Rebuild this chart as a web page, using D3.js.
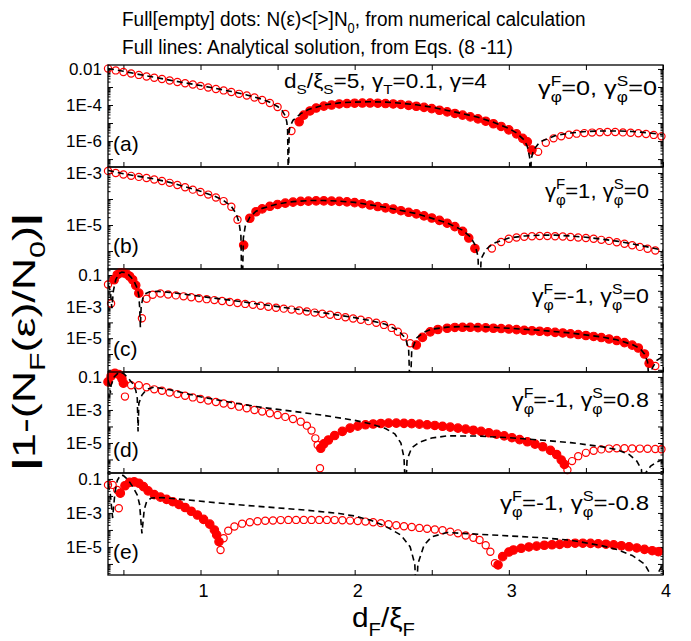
<!DOCTYPE html>
<html>
<head>
<meta charset="utf-8">
<script src="https://cdn.jsdelivr.net/npm/d3@7"></script>
<style>
  body { margin: 0; background: #fff; }
  svg { font-family: "Liberation Sans", Arial, Helvetica, sans-serif; }
</style>
</head>
<body>
<div id="chart"></div>
<script>
// x axis (d_F / xi_F)
const xTicks = [0.5, 1, 1.5, 2, 2.5, 3, 3.5, 4];
const xTickLabels = [1, 2, 3, 4];

// panel names and parameters
const panelNames = ["(a)", "(b)", "(c)", "(d)", "(e)"];
const gammaF = ["0", "1", "-1", "-1", "-1"];
const gammaS = ["0", "0", "0", "0.8", "-0.8"];

// labelled y ticks per panel
const yLabelsA = [1e-2, 1e-4, 1e-6];
const yLabelsB = [1e-3, 1e-5];
const yLabelsC = [1e-1, 1e-3, 1e-5];
const yLabelsD = [1e-1, 1e-3, 1e-5];
const yLabelsE = [1e-1, 1e-3, 1e-5];

// y ranges, as log10 exponents [bottom, top]
const yExpA = [-7.44, -1.78];
const yExpB = [-6.69, -2.77];
const yExpC = [-7.14, -0.62];
const yExpD = [-6.82, -0.70];
const yExpE = [-6.65, -0.65];

// dots: [dF/xiF, log10|1-N/N0|, 1 = full (N<N0), 0 = empty (N>N0)]
const dotsA = [[0.40,-1.98,0],[0.45,-2.08,0],[0.50,-2.17,0],[0.55,-2.25,0],[0.60,-2.33,0],[0.65,-2.42,0],[0.70,-2.49,0],[0.75,-2.56,0],[0.80,-2.64,0],[0.85,-2.72,0],[0.90,-2.79,0],[0.95,-2.86,0],[1.00,-2.94,0],[1.05,-3.03,0],[1.10,-3.11,0],[1.15,-3.19,0],[1.20,-3.28,0],[1.25,-3.38,0],[1.30,-3.47,0],[1.35,-3.58,0],[1.40,-3.72,0],[1.45,-3.89,0],[1.50,-4.11,0],[1.55,-4.5,0],[1.59,-5.44,0],
  [1.64,-4.93,1],[1.67,-4.56,1],[1.71,-4.33,1],[1.75,-4.17,1],[1.80,-4.06,1],[1.85,-4.0,1],[1.90,-3.94,1],[1.95,-3.92,1],[2.00,-3.9,1],[2.05,-3.89,1],[2.10,-3.89,1],[2.15,-3.9,1],[2.20,-3.92,1],[2.25,-3.94,1],[2.30,-3.97,1],[2.35,-4.02,1],[2.40,-4.07,1],[2.45,-4.13,1],[2.50,-4.2,1],[2.55,-4.29,1],[2.60,-4.38,1],[2.65,-4.47,1],[2.70,-4.56,1],[2.75,-4.66,1],[2.80,-4.77,1],[2.85,-4.9,1],[2.90,-5.04,1],[2.95,-5.19,1],[3.00,-5.38,1],[3.05,-5.6,1],[3.09,-5.85,1],[3.12,-6.04,1],[3.15,-6.5,1],
  [3.19,-6.6,0],[3.24,-6.1,0],[3.29,-5.85,0],[3.34,-5.73,0],[3.39,-5.65,0],[3.44,-5.59,0],[3.49,-5.56,0],[3.54,-5.53,0],[3.59,-5.51,0],[3.64,-5.5,0],[3.69,-5.5,0],[3.74,-5.52,0],[3.79,-5.54,0],[3.84,-5.57,0],[3.89,-5.61,0],[3.94,-5.66,0],[3.99,-5.74,0]];

const dotsB = [[0.40,-2.92,0],[0.45,-3.0,0],[0.50,-3.06,0],[0.55,-3.11,0],[0.60,-3.15,0],[0.65,-3.19,0],[0.70,-3.25,0],[0.75,-3.31,0],[0.80,-3.38,0],[0.85,-3.46,0],[0.90,-3.55,0],[0.95,-3.64,0],[1.00,-3.73,0],[1.05,-3.83,0],[1.10,-3.94,0],[1.15,-4.08,0],[1.20,-4.3,0],[1.24,-4.8,0],
  [1.28,-5.77,1],[1.32,-4.74,1],[1.36,-4.49,1],[1.40,-4.38,1],[1.45,-4.28,1],[1.50,-4.21,1],[1.55,-4.16,1],[1.60,-4.12,1],[1.65,-4.09,1],[1.70,-4.08,1],[1.75,-4.07,1],[1.80,-4.07,1],[1.85,-4.08,1],[1.90,-4.09,1],[1.95,-4.11,1],[2.00,-4.14,1],[2.05,-4.18,1],[2.10,-4.23,1],[2.15,-4.29,1],[2.20,-4.34,1],[2.25,-4.39,1],[2.30,-4.45,1],[2.35,-4.51,1],[2.40,-4.57,1],[2.45,-4.65,1],[2.50,-4.73,1],[2.55,-4.82,1],[2.60,-4.93,1],[2.65,-5.06,1],[2.70,-5.24,1],[2.74,-5.5,1],[2.78,-5.9,1],
  [2.89,-5.9,0],[2.95,-5.65,0],[3.00,-5.53,0],[3.05,-5.48,0],[3.10,-5.45,0],[3.15,-5.43,0],[3.20,-5.42,0],[3.25,-5.42,0],[3.30,-5.43,0],[3.35,-5.44,0],[3.40,-5.46,0],[3.45,-5.48,0],[3.50,-5.5,0],[3.55,-5.53,0],[3.60,-5.57,0],[3.65,-5.61,0],[3.70,-5.66,0],[3.75,-5.72,0],[3.80,-5.78,0],[3.85,-5.84,0],[3.90,-5.91,0],[3.95,-5.98,0]];

const dotsC = [[0.40,-1.6,0],[0.42,-2.8,0],[0.44,-1.3,1],[0.46,-0.98,1],[0.48,-0.86,1],[0.50,-0.86,1],[0.52,-0.93,1],[0.54,-1.08,1],[0.56,-1.3,1],[0.58,-1.65,1],[0.60,-2.15,1],[0.62,-3.74,0],[0.65,-2.5,0],[0.69,-2.25,0],[0.74,-2.17,0],[0.79,-2.23,0],[0.84,-2.29,0],[0.89,-2.35,0],[0.94,-2.41,0],[0.99,-2.47,0],[1.04,-2.53,0],[1.09,-2.59,0],[1.14,-2.65,0],[1.19,-2.71,0],[1.24,-2.77,0],[1.29,-2.83,0],[1.34,-2.89,0],[1.39,-2.95,0],[1.44,-3.01,0],[1.49,-3.07,0],[1.54,-3.13,0],[1.59,-3.19,0],[1.64,-3.25,0],[1.69,-3.31,0],[1.74,-3.38,0],[1.79,-3.45,0],[1.84,-3.52,0],[1.89,-3.59,0],[1.94,-3.67,0],[1.99,-3.75,0],[2.04,-3.83,0],[2.09,-3.92,0],[2.14,-4.02,0],[2.19,-4.16,0],[2.24,-4.35,0],[2.28,-4.59,0],[2.32,-4.9,0],[2.36,-5.32,0],
  [2.40,-5.43,1],[2.44,-4.95,1],[2.49,-4.6,1],[2.54,-4.45,1],[2.60,-4.37,1],[2.65,-4.32,1],[2.70,-4.31,1],[2.75,-4.31,1],[2.80,-4.33,1],[2.85,-4.35,1],[2.90,-4.37,1],[2.95,-4.39,1],[3.00,-4.42,1],[3.05,-4.46,1],[3.10,-4.5,1],[3.15,-4.53,1],[3.20,-4.56,1],[3.25,-4.59,1],[3.30,-4.63,1],[3.35,-4.67,1],[3.40,-4.72,1],[3.45,-4.77,1],[3.50,-4.83,1],[3.55,-4.89,1],[3.60,-4.96,1],[3.65,-5.05,1],[3.70,-5.15,1],[3.75,-5.28,1],[3.80,-5.44,1],[3.84,-5.62,1],[3.88,-6.0,1],[3.91,-6.59,1],
  [3.95,-6.76,0]];

const dotsD = [[0.40,-1.3,1],[0.42,-0.95,1],[0.445,-0.78,1],[0.47,-0.85,1],[0.49,-1.1,1],[0.50,-1.38,1],[0.51,-2.19,0],[0.55,-1.5,0],[0.60,-1.5,0],[0.65,-1.62,0],[0.70,-1.75,0],[0.75,-1.84,0],[0.80,-1.94,0],[0.85,-2.04,0],[0.90,-2.14,0],[0.95,-2.24,0],[1.00,-2.34,0],[1.05,-2.43,0],[1.10,-2.52,0],[1.15,-2.61,0],[1.20,-2.7,0],[1.25,-2.8,0],[1.30,-2.9,0],[1.35,-3.0,0],[1.40,-3.1,0],[1.45,-3.2,0],[1.50,-3.31,0],[1.55,-3.42,0],[1.60,-3.55,0],[1.65,-3.71,0],[1.69,-3.95,0],[1.72,-4.25,0],[1.745,-4.72,0],[1.76,-5.12,0],[1.775,-6.53,0],
  [1.78,-5.32,1],[1.80,-5.05,1],[1.83,-4.82,1],[1.87,-4.55,1],[1.92,-4.3,1],[1.97,-4.1,1],[2.02,-3.98,1],[2.07,-3.9,1],[2.12,-3.85,1],[2.17,-3.82,1],[2.22,-3.8,1],[2.27,-3.8,1],[2.32,-3.81,1],[2.37,-3.83,1],[2.42,-3.86,1],[2.47,-3.9,1],[2.52,-3.94,1],[2.57,-3.99,1],[2.62,-4.04,1],[2.67,-4.1,1],[2.72,-4.16,1],[2.77,-4.23,1],[2.82,-4.3,1],[2.87,-4.38,1],[2.92,-4.47,1],[2.97,-4.57,1],[3.02,-4.68,1],[3.07,-4.8,1],[3.12,-4.93,1],[3.17,-5.07,1],[3.22,-5.23,1],[3.27,-5.45,1],[3.31,-5.7,1],[3.34,-6.03,1],[3.36,-6.3,1],
  [3.38,-6.64,0],[3.41,-6.1,0],[3.45,-5.8,0],[3.50,-5.6,0],[3.55,-5.47,0],[3.60,-5.39,0],[3.65,-5.34,0],[3.70,-5.32,0],[3.75,-5.32,0],[3.80,-5.33,0],[3.85,-5.34,0],[3.90,-5.35,0],[3.95,-5.37,0],[3.99,-5.38,0]];

const dotsE = [[0.40,-1.35,0],[0.43,-1.35,0],[0.46,-1.65,0],[0.47,-2.72,0],[0.48,-1.84,1],[0.51,-1.4,1],[0.54,-1.2,1],[0.57,-1.17,1],[0.60,-1.25,1],[0.63,-1.45,1],[0.66,-1.7,1],[0.70,-1.92,1],[0.74,-2.07,1],[0.78,-2.2,1],[0.82,-2.34,1],[0.86,-2.5,1],[0.90,-2.68,1],[0.94,-2.9,1],[0.98,-3.12,1],[1.02,-3.38,1],[1.06,-3.66,1],[1.09,-4.0,1],[1.105,-4.29,1],[1.12,-4.69,1],
  [1.13,-5.18,0],[1.15,-4.49,0],[1.18,-4.05,0],[1.22,-3.8,0],[1.27,-3.63,0],[1.32,-3.55,0],[1.37,-3.49,0],[1.42,-3.46,0],[1.47,-3.44,0],[1.52,-3.42,0],[1.57,-3.41,0],[1.62,-3.41,0],[1.67,-3.41,0],[1.72,-3.41,0],[1.77,-3.41,0],[1.82,-3.41,0],[1.87,-3.42,0],[1.92,-3.43,0],[1.97,-3.45,0],[2.02,-3.48,0],[2.07,-3.51,0],[2.12,-3.55,0],[2.17,-3.6,0],[2.22,-3.66,0],[2.27,-3.72,0],[2.32,-3.78,0],[2.37,-3.83,0],[2.42,-3.88,0],[2.47,-3.93,0],[2.52,-3.97,0],[2.57,-4.02,0],[2.62,-4.1,0],[2.67,-4.2,0],[2.72,-4.33,0],[2.77,-4.46,0],[2.81,-4.59,0],[2.85,-4.9,0],[2.88,-5.28,0],[2.91,-5.96,0],
  [2.93,-6.06,1],[2.96,-5.57,1],[3.00,-5.3,1],[3.03,-5.18,1],[3.08,-5.08,1],[3.13,-5.0,1],[3.18,-4.95,1],[3.23,-4.9,1],[3.28,-4.87,1],[3.33,-4.85,1],[3.38,-4.8,1],[3.43,-4.78,1],[3.48,-4.78,1],[3.53,-4.79,1],[3.58,-4.81,1],[3.63,-4.84,1],[3.68,-4.88,1],[3.73,-4.93,1],[3.78,-4.99,1],[3.83,-5.06,1],[3.88,-5.14,1],[3.93,-5.22,1],[3.97,-5.28,1]];

// dashed analytical curves: [dF/xiF, log10|1-N/N0|]
const lineA = [[0.40,-1.97],[0.5,-2.13],[0.6,-2.3],[0.7,-2.46],[0.8,-2.62],[0.9,-2.77],[1.0,-2.92],[1.1,-3.08],[1.2,-3.25],[1.3,-3.44],[1.4,-3.68],[1.45,-3.85],[1.5,-4.08],[1.53,-4.32],[1.55,-4.6],[1.56,-4.95],[1.565,-5.4],[1.57,-8.5],[1.575,-5.5],[1.58,-5.2],[1.6,-4.85],[1.65,-4.48],[1.7,-4.25],[1.8,-4.0],[1.9,-3.88],[2.0,-3.84],[2.1,-3.82],[2.2,-3.84],[2.3,-3.9],[2.4,-3.99],[2.5,-4.12],[2.6,-4.3],[2.7,-4.48],[2.8,-4.68],[2.9,-4.96],[3.0,-5.3],[3.05,-5.55],[3.1,-5.95],[3.12,-6.3],[3.135,-6.9],[3.14,-9],[3.145,-7.0],[3.16,-6.5],[3.2,-6.05],[3.3,-5.7],[3.4,-5.55],[3.5,-5.47],[3.6,-5.44],[3.7,-5.44],[3.8,-5.47],[3.9,-5.54],[4.0,-5.65]];

const lineB = [[0.40,-2.9],[0.5,-3.03],[0.6,-3.13],[0.7,-3.23],[0.8,-3.36],[0.9,-3.53],[1.0,-3.7],[1.1,-3.91],[1.15,-4.06],[1.2,-4.28],[1.23,-4.55],[1.25,-4.9],[1.262,-5.4],[1.27,-8],[1.278,-5.5],[1.29,-5.05],[1.32,-4.7],[1.36,-4.47],[1.4,-4.36],[1.5,-4.19],[1.6,-4.1],[1.7,-4.06],[1.8,-4.06],[1.9,-4.08],[2.0,-4.13],[2.2,-4.32],[2.4,-4.56],[2.6,-4.92],[2.7,-5.2],[2.75,-5.45],[2.78,-5.75],[2.8,-6.2],[2.81,-8],[2.82,-6.3],[2.85,-5.95],[2.9,-5.7],[3.0,-5.5],[3.1,-5.42],[3.2,-5.39],[3.3,-5.39],[3.4,-5.42],[3.5,-5.47],[3.6,-5.54],[3.7,-5.62],[3.8,-5.72],[3.9,-5.84],[4.0,-5.97]];

const lineC = [[0.40,-1.6],[0.415,-2.0],[0.425,-3.1],[0.435,-2.0],[0.45,-1.3],[0.47,-0.92],[0.49,-0.82],[0.51,-0.84],[0.53,-0.95],[0.55,-1.15],[0.57,-1.42],[0.59,-1.85],[0.6,-2.3],[0.605,-3.0],[0.61,-4.3],[0.615,-3.0],[0.625,-2.5],[0.64,-2.2],[0.67,-2.06],[0.72,-2.03],[0.8,-2.1],[1.0,-2.35],[1.2,-2.6],[1.4,-2.87],[1.6,-3.13],[1.8,-3.4],[2.0,-3.7],[2.1,-3.88],[2.2,-4.12],[2.28,-4.5],[2.33,-5.0],[2.35,-5.7],[2.36,-8.5],[2.37,-5.8],[2.4,-5.0],[2.45,-4.62],[2.5,-4.43],[2.6,-4.3],[2.7,-4.26],[2.8,-4.27],[2.9,-4.31],[3.0,-4.37],[3.2,-4.5],[3.4,-4.67],[3.6,-4.92],[3.7,-5.1],[3.8,-5.4],[3.85,-5.65],[3.88,-6.0],[3.9,-6.5],[3.915,-8.5],[3.93,-6.9],[3.96,-6.4],[4.0,-6.15]];

const lineD = [[0.40,-1.2],[0.41,-1.5],[0.415,-2.0],[0.42,-1.5],[0.44,-1.0],[0.47,-0.72],[0.5,-0.78],[0.53,-1.05],[0.56,-1.4],[0.58,-1.8],[0.59,-2.3],[0.595,-4.3],[0.6,-2.6],[0.62,-2.1],[0.65,-1.75],[0.7,-1.62],[0.8,-1.78],[1.0,-2.2],[1.2,-2.55],[1.4,-2.85],[1.6,-3.08],[1.8,-3.33],[2.0,-3.63],[2.1,-3.83],[2.2,-4.12],[2.26,-4.45],[2.3,-5.0],[2.32,-5.9],[2.33,-8],[2.34,-6.0],[2.37,-5.3],[2.42,-4.95],[2.5,-4.7],[2.6,-4.57],[2.8,-4.58],[3.0,-4.68],[3.2,-4.82],[3.4,-4.98],[3.6,-5.22],[3.7,-5.4],[3.78,-5.7],[3.83,-6.1],[3.86,-6.6],[3.87,-8],[3.88,-6.9],[3.92,-6.4],[3.96,-6.15],[4.0,-6.0]];

const lineE = [[0.40,-1.3],[0.415,-1.9],[0.43,-3.3],[0.445,-1.8],[0.46,-1.1],[0.48,-0.78],[0.50,-0.8],[0.53,-1.05],[0.56,-1.45],[0.59,-1.95],[0.605,-2.5],[0.62,-4.2],[0.635,-2.8],[0.65,-2.35],[0.68,-2.12],[0.75,-2.1],[0.9,-2.22],[1.1,-2.4],[1.3,-2.56],[1.5,-2.7],[1.7,-2.85],[1.9,-3.03],[2.0,-3.18],[2.1,-3.42],[2.2,-3.78],[2.3,-4.3],[2.36,-5.0],[2.39,-6.0],[2.4,-8],[2.41,-6.0],[2.45,-4.9],[2.5,-4.4],[2.6,-4.15],[2.8,-4.25],[3.0,-4.35],[3.2,-4.45],[3.4,-4.6],[3.6,-4.92],[3.7,-5.15],[3.8,-5.5],[3.88,-6.0],[3.93,-6.8],[3.95,-8],[3.97,-6.5],[4.0,-6.0]];

const panels = [
  {dots: dotsA, line: lineA, exp: yExpA, labels: yLabelsA},
  {dots: dotsB, line: lineB, exp: yExpB, labels: yLabelsB},
  {dots: dotsC, line: lineC, exp: yExpC, labels: yLabelsC},
  {dots: dotsD, line: lineD, exp: yExpD, labels: yLabelsD},
  {dots: dotsE, line: lineE, exp: yExpE, labels: yLabelsE}
];

const width = 691, height = 641;
const left = 108, right = 663;
const tops = [65, 167, 269, 372, 473, 575];
const red = "#ff0000";

const svg = d3.select("#chart").append("svg")
    .attr("width", width).attr("height", height);

const x = d3.scaleLinear().domain([0.4, 4]).range([left, right]);

// text with sub/superscripts: parts = [text, "sub"|"sup"|null, stackOnPrevious]
function rich(parent, parts, size) {
    const t = parent.append("text").attr("font-size", size).attr("fill", "#000");
    let shift = 0, prev = null;
    parts.forEach(([str, kind, back]) => {
        const target = kind === "sub" ? 0.32 * size : kind === "sup" ? -0.42 * size : 0;
        const ts = t.append("tspan").text(str)
            .attr("dy", target - shift)
            .attr("font-size", kind ? size * 0.68 : size);
        if (back && prev) ts.attr("dx", -prev.node().getComputedTextLength());
        shift = target;
        prev = ts;
    });
    return t;
}

// squeeze/stretch a text horizontally so it spans [x0, x0 + w]
function fit(t, x0, baseline, w) {
    const b = t.node().getBBox();
    const s = w / b.width;
    t.attr("transform", `translate(${x0 - b.x * s},${baseline}) scale(${s},1)`);
}

const fmt = v => v >= 0.01 ? String(v) : "1E" + Math.round(Math.log10(v));

panels.forEach((p, i) => {
    const top = tops[i], bottom = tops[i + 1];
    const y = d3.scaleLog()
        .domain([Math.pow(10, p.exp[0]), Math.pow(10, p.exp[1])])
        .range([bottom, top]);
    const g = svg.append("g");

    const clipId = "clip" + i;
    svg.append("clipPath").attr("id", clipId)
        .append("rect").attr("x", left).attr("y", top)
        .attr("width", right - left).attr("height", bottom - top);

    const all = y.ticks();
    const minor = all.filter(v => Math.abs(Math.log10(v) - Math.round(Math.log10(v))) > 1e-6);
    const major = all.filter(v => !minor.includes(v));

    // left axis
    g.append("g").attr("transform", `translate(${left},0)`)
        .call(d3.axisLeft(y).tickValues(minor).tickSize(-2.5).tickFormat(""));
    g.append("g").attr("transform", `translate(${left},0)`)
        .call(d3.axisLeft(y).tickValues(major).tickSize(-5).tickFormat(""));
    g.append("g").attr("transform", `translate(${left},0)`)
        .call(d3.axisLeft(y).tickValues(p.labels).tickSize(0).tickPadding(6).tickFormat(fmt))
        .call(a => a.selectAll("text").attr("font-size", 17).attr("font-family", null));
    // right axis
    g.append("g").attr("transform", `translate(${right},0)`)
        .call(d3.axisRight(y).tickValues(minor).tickSize(-2.5).tickFormat(""));
    g.append("g").attr("transform", `translate(${right},0)`)
        .call(d3.axisRight(y).tickValues(major).tickSize(-5).tickFormat(""));
    // bottom axis
    g.append("g").attr("transform", `translate(0,${bottom})`)
        .call(d3.axisBottom(x).tickValues(xTicks).tickSize(-5).tickFormat(""));
    if (i === 0) {
        g.append("g").attr("transform", `translate(0,${top})`)
            .call(d3.axisTop(x).tickValues(xTicks).tickSize(-5).tickFormat(""));
    }
    g.selectAll(".domain").remove();
    g.selectAll(".tick line").attr("stroke", "#000").attr("stroke-width", 1);

    // dots
    g.append("g").selectAll("circle")
        .data(p.dots)
        .join("circle")
        .attr("cx", d => x(d[0]))
        .attr("cy", d => y(Math.pow(10, d[1])))
        .attr("r", d => d[2] ? 4.2 : 3.6)
        .attr("fill", d => d[2] ? red : "none")
        .attr("stroke", red)
        .attr("stroke-width", 1.2);

    // analytical curve
    g.append("path")
        .datum(p.line)
        .attr("clip-path", `url(#${clipId})`)
        .attr("fill", "none")
        .attr("stroke", "#000")
        .attr("stroke-width", 1.6)
        .attr("stroke-dasharray", "6,4")
        .attr("d", d3.line().x(d => x(d[0])).y(d => y(Math.pow(10, d[1]))));

    // frame
    g.append("rect")
        .attr("x", left).attr("y", top)
        .attr("width", right - left).attr("height", bottom - top)
        .attr("fill", "none").attr("stroke", "#000").attr("stroke-width", 1.3);

    // panel letter
    g.append("text").attr("x", 113).attr("y", bottom - 16)
        .attr("font-size", 21).text(panelNames[i]);
});

// x tick labels
svg.append("g").selectAll("text")
    .data(xTickLabels)
    .join("text")
    .attr("x", d => x(d) + 3)
    .attr("y", 597)
    .attr("text-anchor", "middle")
    .attr("font-size", 18)
    .text(d => d);

// x title
const xt = rich(svg, [["d"], ["F", "sub"], ["/ξ"], ["F", "sub"]], 28);
fit(xt, 352, 627, 63);

// y title (rotated, stretched to the reference length), heavy bars
const yt = rich(svg, [["|"], ["1-(N"], ["F", "sub"], ["(ε)/N"], ["0", "sub"], [")"], ["|"]], 32);
yt.selectAll("tspan").filter((d, k) => k === 0 || k === 6).attr("font-weight", "bold");
{
    const b = yt.node().getBBox();
    const s = 257 / b.width;
    yt.attr("transform", `translate(35,342) rotate(-90) scale(${s},1) translate(${-(b.x + b.width / 2)},0)`);
}

// header
const h1 = rich(svg, [["Full[empty] dots: N(ε)<[>]N"], ["0", "sub"], [", from numerical calculation"]], 21);
fit(h1, 122, 26, 464);
const h2 = rich(svg, [["Full lines: Analytical solution, from Eqs. (8 -11)"]], 21);
fit(h2, 122, 54, 391);

// parameter annotation in panel (a)
const pa = rich(svg, [["d"], ["S", "sub"], ["/ξ"], ["S", "sub"], ["=5, γ"], ["T", "sub"], ["=0.1, γ=4"]], 20);
fit(pa, 284, 88, 203);

// gamma_phi labels
const gEnds = [657, 649, 649, 649, 649];
const gWidths = [119, 104, 117, 137, 149];
const gBase = [95, 198, 303, 407, 510];
gammaF.forEach((f, i) => {
    const t = rich(svg, [["γ"], ["φ", "sub"], ["F", "sup", true], ["=" + f + ", γ"], ["φ", "sub"], ["S", "sup", true], ["=" + gammaS[i]]], 21);
    fit(t, gEnds[i] - gWidths[i], gBase[i], gWidths[i]);
});
</script>
</body>
</html>
